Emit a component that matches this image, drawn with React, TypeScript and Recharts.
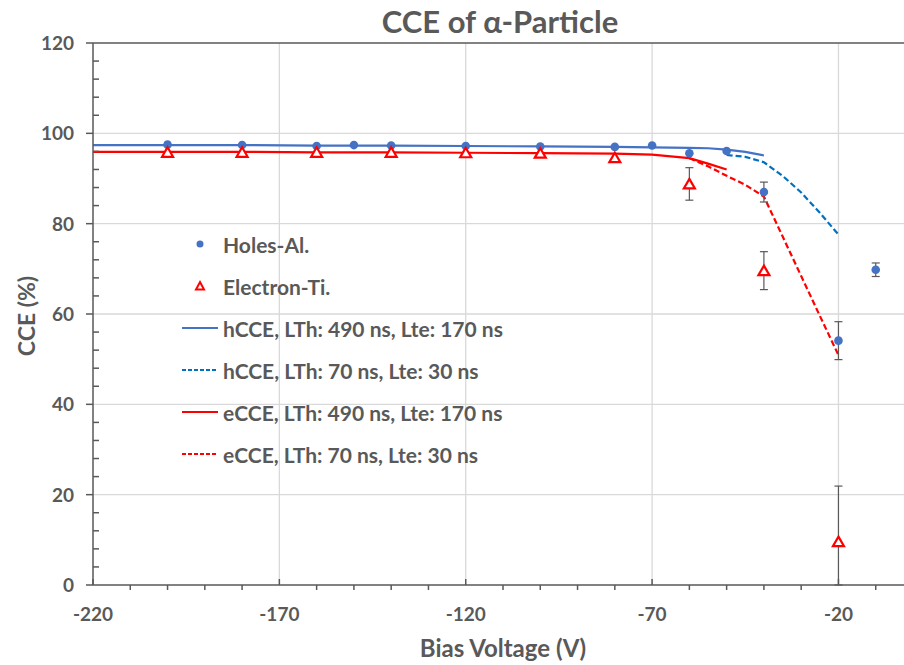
import {
  ComposedChart,
  Line,
  Scatter,
  XAxis,
  YAxis,
  CartesianGrid,
  ErrorBar,
  ReferenceLine,
  Legend,
} from "recharts";

const FONT = "Lato, 'Open Sans', sans-serif";
const GREY = "#595959";

// measured CCE, holes collected on the Al contact
const holesBias = [-200, -180, -160, -150, -140, -120, -100, -80, -70, -60, -50, -40, -20, -10];
const holesCce = [97.5, 97.4, 97.2, 97.4, 97.3, 97.2, 97.1, 97.0, 97.3, 95.6, 96.1, 87.0, 54.1, 69.8];
const holesErr = [0, 0, 0, 0, 0, 0, 0, 0, 0, 0, 0, 2.2, 4.2, 1.5];

// measured CCE, electrons collected on the Ti contact
const electronBias = [-200, -180, -160, -140, -120, -100, -80, -60, -40, -20];
const electronCce = [95.8, 95.8, 95.8, 95.8, 95.7, 95.6, 94.6, 88.8, 69.6, 9.6];
const electronErr: (number | [number, number])[] = [0, 0, 0, 0, 0, 0, 0, 3.6, 4.2, [9.6, 12.3]];

// simulated CCE curves (null = outside the computed range)
const modelBias = [-220, -200, -180, -160, -140, -120, -100, -80, -70, -60, -55, -50, -45, -40, -35, -30, -25, -20];
const hLong = [97.4, 97.4, 97.4, 97.3, 97.3, 97.2, 97.1, 97.0, 96.9, 96.8, 96.7, 96.4, 95.9, 95.1, null, null, null, null];
const hShort = [null, null, null, null, null, null, null, null, null, null, null, 95.2, 94.8, 93.6, 90.6, 86.9, 82.4, 77.6];
const eLong = [95.9, 95.9, 95.9, 95.8, 95.8, 95.7, 95.6, 95.5, 95.3, 94.5, 93.3, 92.0, null, null, null, null, null, null];
const eShort = [null, null, null, null, null, null, null, null, null, 94.5, 92.7, 90.6, 88.6, 86.0, 77.2, 68.4, 59.6, 50.9];

const xMajor = [-220, -170, -120, -70, -20];
const xMinor = [-210, -200, -190, -180, -160, -150, -140, -130, -110, -100, -90, -80, -60, -50, -40, -30, -10, 0];
const yMajor = [0, 20, 40, 60, 80, 100, 120];
const yMinor = [4, 8, 12, 16, 24, 28, 32, 36, 44, 48, 52, 56, 64, 68, 72, 76, 84, 88, 92, 96, 104, 108, 112, 116];

const NAMES = {
  holes: "Holes-Al.",
  electron: "Electron-Ti.",
  hLong: "hCCE, LTh: 490 ns, Lte: 170 ns",
  hShort: "hCCE, LTh: 70 ns, Lte: 30 ns",
  eLong: "eCCE, LTh: 490 ns, Lte: 170 ns",
  eShort: "eCCE, LTh: 70 ns, Lte: 30 ns",
};

const BLUE = "#4472C4";
const BLUE_DASH = "#0070C0";
const RED = "#FF0000";

const holesData = holesBias.map((x, i) => ({ x, y: holesCce[i], err: holesErr[i] }));
const electronData = electronBias.map((x, i) => ({ x, y: electronCce[i], err: electronErr[i] }));
const curve = (vals: (number | null)[]) => modelBias.map((x, i) => ({ x, y: vals[i] }));

const xTicks = [...xMajor, ...xMinor].sort((a, b) => a - b);
const yTicks = [...yMajor, ...yMinor].sort((a, b) => a - b);

const tickText = {
  fill: GREY,
  fontFamily: FONT,
  fontSize: 19,
  fontWeight: 700,
};

const XTick = ({ x, y, payload }: any) => {
  const major = xMajor.includes(payload.value);
  return (
    <g>
      {major ? (
        <line x1={x} x2={x} y1={y - 6} y2={y} stroke={GREY} strokeWidth={1.5} />
      ) : (
        <line x1={x} x2={x} y1={y} y2={y + 5} stroke={GREY} strokeWidth={1.5} />
      )}
      {major && (
        <text x={x} y={y + 36} textAnchor="middle" {...tickText}>
          {payload.value}
        </text>
      )}
    </g>
  );
};

const YTick = ({ x, y, payload }: any) => {
  const major = yMajor.includes(payload.value);
  return (
    <g>
      {major ? (
        <line x1={x - 7} x2={x} y1={y} y2={y} stroke={GREY} strokeWidth={1.5} />
      ) : (
        <line x1={x} x2={x + 6} y1={y} y2={y} stroke={GREY} strokeWidth={1.5} />
      )}
      {major && (
        <text x={x - 19} y={y} dy="0.36em" textAnchor="end" {...tickText}>
          {payload.value}
        </text>
      )}
    </g>
  );
};

const Triangle = ({ cx, cy }: any) => (
  <path
    d={`M${cx},${cy - 5} L${cx + 5.5},${cy + 4.5} L${cx - 5.5},${cy + 4.5} Z`}
    fill="#fff"
    stroke={RED}
    strokeWidth={2.2}
  />
);

const Dot = ({ cx, cy }: any) => <circle cx={cx} cy={cy} r={4.3} fill={BLUE} />;

const legendRows = [
  { name: NAMES.holes, icon: "dot" },
  { name: NAMES.electron, icon: "triangle" },
  { name: NAMES.hLong, icon: "line", color: BLUE, dash: undefined },
  { name: NAMES.hShort, icon: "line", color: BLUE_DASH, dash: "4 2" },
  { name: NAMES.eLong, icon: "line", color: RED, dash: undefined },
  { name: NAMES.eShort, icon: "line", color: RED, dash: "4 2" },
];

const renderLegend = () => (
  <div style={{ fontFamily: FONT, fontSize: 21, fontWeight: 700, color: GREY }}>
    {legendRows.map((row) => (
      <div key={row.name} style={{ display: "flex", alignItems: "center", height: 42 }}>
        <svg width={40} height={14} style={{ marginRight: 3 }}>
          {row.icon === "dot" && <circle cx={20} cy={7} r={3.5} fill={BLUE} />}
          {row.icon === "triangle" && (
            <path d="M20,3 L24,10.5 L16,10.5 Z" fill="#fff" stroke={RED} strokeWidth={2} />
          )}
          {row.icon === "line" && (
            <line x1={2} x2={38} y1={7} y2={7} stroke={row.color} strokeWidth={2.2} strokeDasharray={row.dash} />
          )}
        </svg>
        <span style={{ whiteSpace: "nowrap" }}>{row.name}</span>
      </div>
    ))}
  </div>
);

export default function App() {
  return (
    <div
      style={{
        position: "fixed",
        left: 0,
        top: 0,
        width: 904,
        height: 665,
        overflow: "hidden",
        background: "#fff",
      }}
    >
      <div
        style={{
          position: "absolute",
          left: 0,
          top: 3,
          width: 1000,
          textAlign: "center",
          fontFamily: FONT,
          fontSize: 31,
          lineHeight: "36px",
          fontWeight: 700,
          color: GREY,
        }}
      >
        CCE of α-Particle
      </div>
      <ComposedChart width={920} height={665} margin={{ top: 43, right: 7, left: 0, bottom: 0 }}>
        <CartesianGrid
          stroke="#D9D9D9"
          strokeWidth={1.3}
          horizontalValues={[20, 40, 60, 80, 100]}
          verticalValues={[-170, -120, -70, -20]}
        />
        <XAxis
          dataKey="x"
          type="number"
          domain={[-220, 0]}
          ticks={xTicks}
          interval={0}
          tickSize={0}
          tickMargin={0}
          tickLine={false}
          tick={<XTick />}
          height={80}
          axisLine={{ stroke: GREY, strokeWidth: 1.5 }}
          allowDataOverflow
          label={{
            value: "Bias Voltage (V)",
            position: "insideBottom",
            offset: 8,
            fill: GREY,
            fontFamily: FONT,
            fontSize: 24,
            fontWeight: 700,
          }}
        />
        <YAxis
          dataKey="y"
          type="number"
          domain={[0, 120]}
          ticks={yTicks}
          interval={0}
          tickSize={0}
          tickMargin={0}
          tickLine={false}
          tick={<YTick />}
          width={93}
          axisLine={{ stroke: GREY, strokeWidth: 1.5 }}
          allowDataOverflow
          label={{
            content: () => (
              <text
                transform="translate(26,316) rotate(-90)"
                textAnchor="middle"
                dominantBaseline="central"
                fill={GREY}
                fontFamily={FONT}
                fontSize={23}
                fontWeight={700}
              >
                CCE (%)
              </text>
            ),
          }}
        />
        <ReferenceLine y={120} stroke={GREY} strokeWidth={1.5} />
        <Line
          data={curve(hLong)}
          dataKey="y"
          name={NAMES.hLong}
          stroke={BLUE}
          strokeWidth={2.2}
          dot={false}
          activeDot={false}
          isAnimationActive={false}
        />
        <Line
          data={curve(hShort)}
          dataKey="y"
          name={NAMES.hShort}
          stroke={BLUE_DASH}
          strokeWidth={2.2}
          strokeDasharray="6 3"
          dot={false}
          activeDot={false}
          isAnimationActive={false}
        />
        <Line
          data={curve(eLong)}
          dataKey="y"
          name={NAMES.eLong}
          stroke={RED}
          strokeWidth={2.2}
          dot={false}
          activeDot={false}
          isAnimationActive={false}
        />
        <Line
          data={curve(eShort)}
          dataKey="y"
          name={NAMES.eShort}
          stroke={RED}
          strokeWidth={2.2}
          strokeDasharray="6 3"
          dot={false}
          activeDot={false}
          isAnimationActive={false}
        />
        <Scatter data={holesData} dataKey="y" name={NAMES.holes} shape={<Dot />} isAnimationActive={false}>
          <ErrorBar dataKey="err" direction="y" width={4} stroke={GREY} strokeWidth={1.2} />
        </Scatter>
        <Scatter data={electronData} dataKey="y" name={NAMES.electron} shape={<Triangle />} isAnimationActive={false}>
          <ErrorBar dataKey="err" direction="y" width={4} stroke={GREY} strokeWidth={1.2} />
        </Scatter>
        <Legend
          layout="vertical"
          align="center"
          verticalAlign="middle"
          content={renderLegend}
          wrapperStyle={{ left: 180, top: 223, width: 360 }}
        />
      </ComposedChart>
    </div>
  );
}
